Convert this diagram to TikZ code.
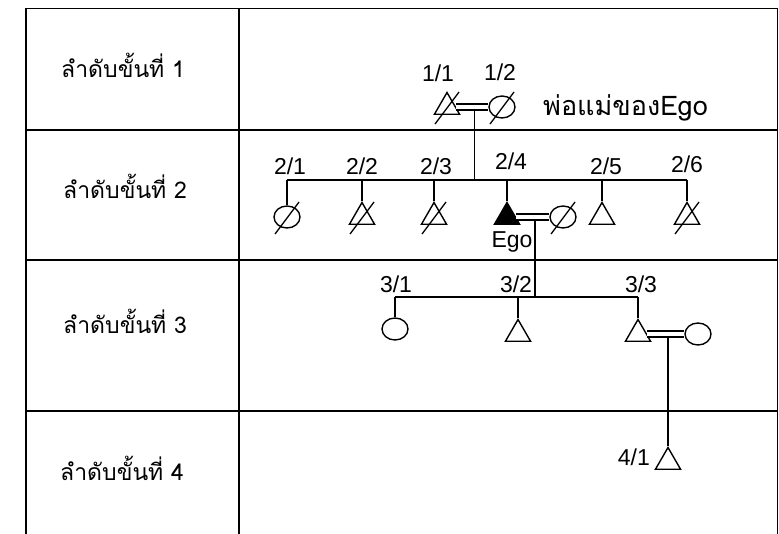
\documentclass[tikz,border=0pt]{standalone}
\usepackage{fontspec}
\setmainfont{Liberation Sans}
\newfontfamily\thaifont[Script=Thai]{Loma}
\usetikzlibrary{shapes.geometric, positioning, calc}

\begin{document}
\begin{tikzpicture}[x=1pt, y=-1pt,
        male/.style={draw, regular polygon, regular polygon sides=3, minimum size=29pt, inner sep=0pt, line width=1.4pt},
        ego/.style={male, fill=black},
        female/.style={draw, ellipse, minimum width=26pt, minimum height=22pt, inner sep=0pt, line width=1.4pt},
        link/.style={line width=1.5pt},
        marry/.style={double, double distance=4.5pt, line width=1.4pt},
        slash/.style={line width=1.3pt},
        tableline/.style={line width=1.4pt},
        num/.style={font=\fontsize{23}{27}\selectfont, inner sep=0pt, anchor=base},
        gen/.style={font=\thaifont\fontsize{23}{27}\selectfont, inner sep=0pt, anchor=base west}
    ]
    \useasboundingbox (0,0) rectangle (779,534);

    % Table
    \draw[tableline] (26,534) -- (26,8.5) -- (777.5,8.5) -- (777.5,534);
    \draw[tableline] (239,8.5) -- (239,534);
    \foreach \y in {130,260,411}
        \draw[tableline] (26,\y) -- (777.5,\y);

    % Generation labels
    \node[gen] (g1) at (61,78) {ลำดับขั้นที่ 1};
    \node[gen] (g2) at (63,199) {ลำดับขั้นที่ 2};
    \node[gen] (g3) at (63,334) {ลำดับขั้นที่ 3};
    \node[gen] (g4) at (60,480) {ลำดับขั้นที่ 4};

    % Generation 1
    \node[male] (p11) at (447,107) {};
    \node[female] (p12) at (502,107) {};
    \node[num] (n11) at (438,82) {1/1};
    \node[num] (n12) at (500,81) {1/2};
    \node[gen, font=\thaifont\fontsize{27}{31}\selectfont] (parents) at (543,116) {พ่อแม่ของEgo};

    % Generation 2
    \node[female] (s21) at (287,217) {};
    \node[male] (s22) at (362,217) {};
    \node[male] (s23) at (434,217) {};
    \node[ego] (s24) at (507,217) {};
    \node[female] (w24) at (563,217) {};
    \node[male] (s25) at (602,217) {};
    \node[male] (s26) at (687,217) {};
    \node[num] (n21) at (290,175) {2/1};
    \node[num] (n22) at (362,175) {2/2};
    \node[num] (n23) at (436,175) {2/3};
    \node[num] (n24) at (511,170) {2/4};
    \node[num] (n25) at (606,175) {2/5};
    \node[num] (n26) at (687,173) {2/6};
    \node[num] (egolbl) at (512,248) {Ego};

    % Generation 3
    \node[female] (c31) at (395,329) {};
    \node[male] (c32) at (518,334) {};
    \node[male] (c33) at (638,334) {};
    \node[female] (w33) at (698,334) {};
    \node[num] (n31) at (396,293) {3/1};
    \node[num] (n32) at (516,293) {3/2};
    \node[num] (n33) at (641,293) {3/3};

    % Generation 4
    \node[male] (d41) at (668,462) {};
    \node[num, anchor=base east] (n41) at (650,465) {4/1};

    % Descent lines
    \coordinate (m1) at ($(p11)!.5!(p12)$);
    \coordinate (m2) at ($(s24)!.5!(w24)$);
    \coordinate (m3) at ($(c33)!.5!(w33)$);
    \draw[link] (m1) -- (m1 |- 0,180);
    \draw[link] (s21 |- 0,180) -- (s26 |- 0,180);
    \foreach \n in {s21,s22,s23,s24,s25,s26}
        \draw[link] (\n |- 0,180) -- (\n);
    \draw[link] (m2) -- (m2 |- 0,297);
    \draw[link] (c31 |- 0,297) -- (c33 |- 0,297);
    \foreach \n in {c31,c32,c33}
        \draw[link] (\n |- 0,297) -- (\n);
    \draw[link] (m3) -- (d41);

    % Marriages
    \draw[marry] (p11) -- (p12);
    \draw[marry] (s24) -- (w24);
    \draw[marry] (c33) -- (w33);

    % Deceased
    \foreach \n in {p11,p12,s21,s22,s23,s26,w24}
        \draw[slash] ($(\n)+(-12pt,-17pt)$) -- ($(\n)+(12pt,15pt)$);
\end{tikzpicture}
\end{document}
